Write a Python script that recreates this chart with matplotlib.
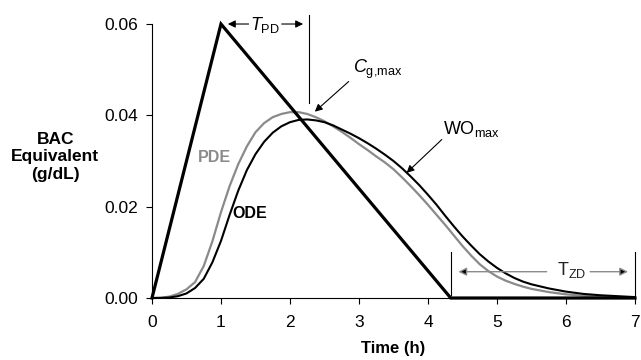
import matplotlib
matplotlib.use("Agg")
import matplotlib.pyplot as plt

# Fonts: Arial-like sans throughout, mathtext uses the same family
plt.rcParams["font.family"] = ["Liberation Sans", "DejaVu Sans"]
plt.rcParams["mathtext.fontset"] = "custom"
plt.rcParams["mathtext.rm"] = "Liberation Sans"
plt.rcParams["mathtext.it"] = "Liberation Sans:italic"
plt.rcParams["mathtext.bf"] = "Liberation Sans:bold"

# Absorption profile (triangle input)
input_time = [0, 1.0, 4.33, 7.0]
input_bac = [0, 0.060, 0, 0]

# Model outputs (h, g/dL)
model_time = [0, 0.125, 0.25, 0.375, 0.5, 0.625, 0.75, 0.875,
              1.0, 1.125, 1.25, 1.375, 1.5, 1.625, 1.75, 1.875,
              2.0, 2.125, 2.25, 2.375, 2.5, 2.625, 2.75, 2.875,
              3.0, 3.125, 3.25, 3.375, 3.5, 3.625, 3.75, 3.875,
              4.0, 4.125, 4.25, 4.375, 4.5, 4.625, 4.75, 4.875,
              5.0, 5.125, 5.25, 5.375, 5.5,
              5.75, 6.0, 6.25, 6.5, 6.75, 7.0]
ode_bac = [0, 0.00002, 0.0001, 0.0004, 0.0010, 0.0022, 0.0042, 0.0078,
           0.0125, 0.0182, 0.0235, 0.0280, 0.0315, 0.0342, 0.0362, 0.0376,
           0.0385, 0.0390, 0.0391, 0.0389, 0.0385, 0.0378, 0.0369, 0.0360,
           0.0350, 0.0339, 0.0327, 0.0314, 0.0300, 0.0284, 0.0266, 0.0247,
           0.0226, 0.0204, 0.0180, 0.0157, 0.0135, 0.0115, 0.0096, 0.0080,
           0.0066, 0.0054, 0.0044, 0.0036, 0.0030,
           0.0021, 0.0014, 0.0009, 0.0006, 0.0004, 0.0002]
pde_bac = [0, 0.00005, 0.0003, 0.0009, 0.0019, 0.0035, 0.0070, 0.0124,
           0.0188, 0.0245, 0.0293, 0.0332, 0.0363, 0.0383, 0.0396, 0.0403,
           0.0407, 0.0407, 0.0403, 0.0396, 0.0387, 0.0376, 0.0364, 0.0351,
           0.0337, 0.0324, 0.0310, 0.0297, 0.0282, 0.0264, 0.0245, 0.0225,
           0.0204, 0.0182, 0.0160, 0.0137, 0.0114, 0.0093, 0.0074, 0.0059,
           0.0047, 0.0038, 0.0031, 0.0025, 0.0020,
           0.0013, 0.0008, 0.0005, 0.0003, 0.0002, 0.0001]

x_ticks = [0, 1, 2, 3, 4, 5, 6, 7]
y_ticks = [0.00, 0.02, 0.04, 0.06]

GRAY = "#8a8a8a"

fig = plt.figure(figsize=(6.41, 3.6), dpi=100)
ax = fig.add_axes([0.2371, 0.1722, 0.7535, 0.7611])

ax.plot(input_time, input_bac, color="black", lw=2.3, solid_joinstyle="miter", clip_on=False, zorder=4)
ax.plot(model_time, pde_bac, color=GRAY, lw=1.6, clip_on=False, zorder=3)
ax.plot(model_time, ode_bac, color="black", lw=1.5, clip_on=False, zorder=3)

ax.set_xlim(0, 7)
ax.set_ylim(0, 0.06)
ax.set_xticks(x_ticks)
ax.set_yticks(y_ticks)
ax.set_yticklabels([f"{v:.2f}" for v in y_ticks])
ax.tick_params(axis="both", direction="out", length=4, width=0.8, labelsize=12.5)
ax.tick_params(axis="y", pad=6)
ax.tick_params(axis="x", pad=8)
for side in ("top", "right"):
    ax.spines[side].set_visible(False)
for side in ("left", "bottom"):
    ax.spines[side].set_linewidth(0.8)

ax.set_xlabel("Time (h)", fontsize=12, fontweight="bold", labelpad=8)
fig.text(0.086, 0.564, "BAC\nEquivalent\n(g/dL)", fontsize=12.5, fontweight="bold",
         ha="center", va="center", linespacing=1.2)

# Curve labels
ax.text(0.667, 0.0307, "PDE", color=GRAY, fontsize=11.5, fontweight="bold", va="center")
ax.text(1.17, 0.0184, "ODE", color="black", fontsize=11.5, fontweight="bold", va="center")

arrow_kw = dict(arrowstyle="-|>", color="black", lw=0.8, shrinkA=0, shrinkB=0,
                mutation_scale=11)

# T_PD: time from peak input to peak concentration
ax.text(1.42, 0.0587, r"$T_{\mathrm{PD}}$", fontsize=13, va="baseline")
ax.annotate("", xy=(1.10, 0.06), xytext=(1.40, 0.06), arrowprops=arrow_kw, annotation_clip=False)
ax.annotate("", xy=(2.19, 0.06), xytext=(1.88, 0.06), arrowprops=arrow_kw, annotation_clip=False)
ax.plot([2.275, 2.275], [0.0427, 0.0620], color="black", lw=0.8, clip_on=False)

# Peak concentration and washout markers
ax.text(2.913, 0.0492, r"$C_{\mathrm{g{,}max}}$", fontsize=13, va="baseline")
ax.annotate("", xy=(2.36, 0.0408), xytext=(2.85, 0.0474), arrowprops=arrow_kw)
ax.text(4.217, 0.0360, r"$\mathrm{WO}_{\mathrm{max}}$", fontsize=13, va="baseline")
ax.annotate("", xy=(3.69, 0.0274), xytext=(4.20, 0.0347), arrowprops=arrow_kw)

# T_ZD: time at zero input until the end of the run
gray_arrow = dict(arrowstyle="-|>", ec=GRAY, fc="black", lw=1.0, shrinkA=0, shrinkB=0,
                  mutation_scale=12)
for xv in (4.34, 7.0):
    ax.plot([xv, xv], [0.0007, 0.0101], color="black", lw=0.8, clip_on=False)
ax.annotate("", xy=(4.44, 0.00576), xytext=(5.72, 0.00576), arrowprops=gray_arrow)
ax.annotate("", xy=(6.90, 0.00576), xytext=(6.35, 0.00576), arrowprops=gray_arrow)
ax.text(5.865, 0.00504, r"$\mathrm{T}_{\mathrm{ZD}}$", fontsize=13, va="baseline", color="#222222")

fig.savefig("out.png", dpi=100)
